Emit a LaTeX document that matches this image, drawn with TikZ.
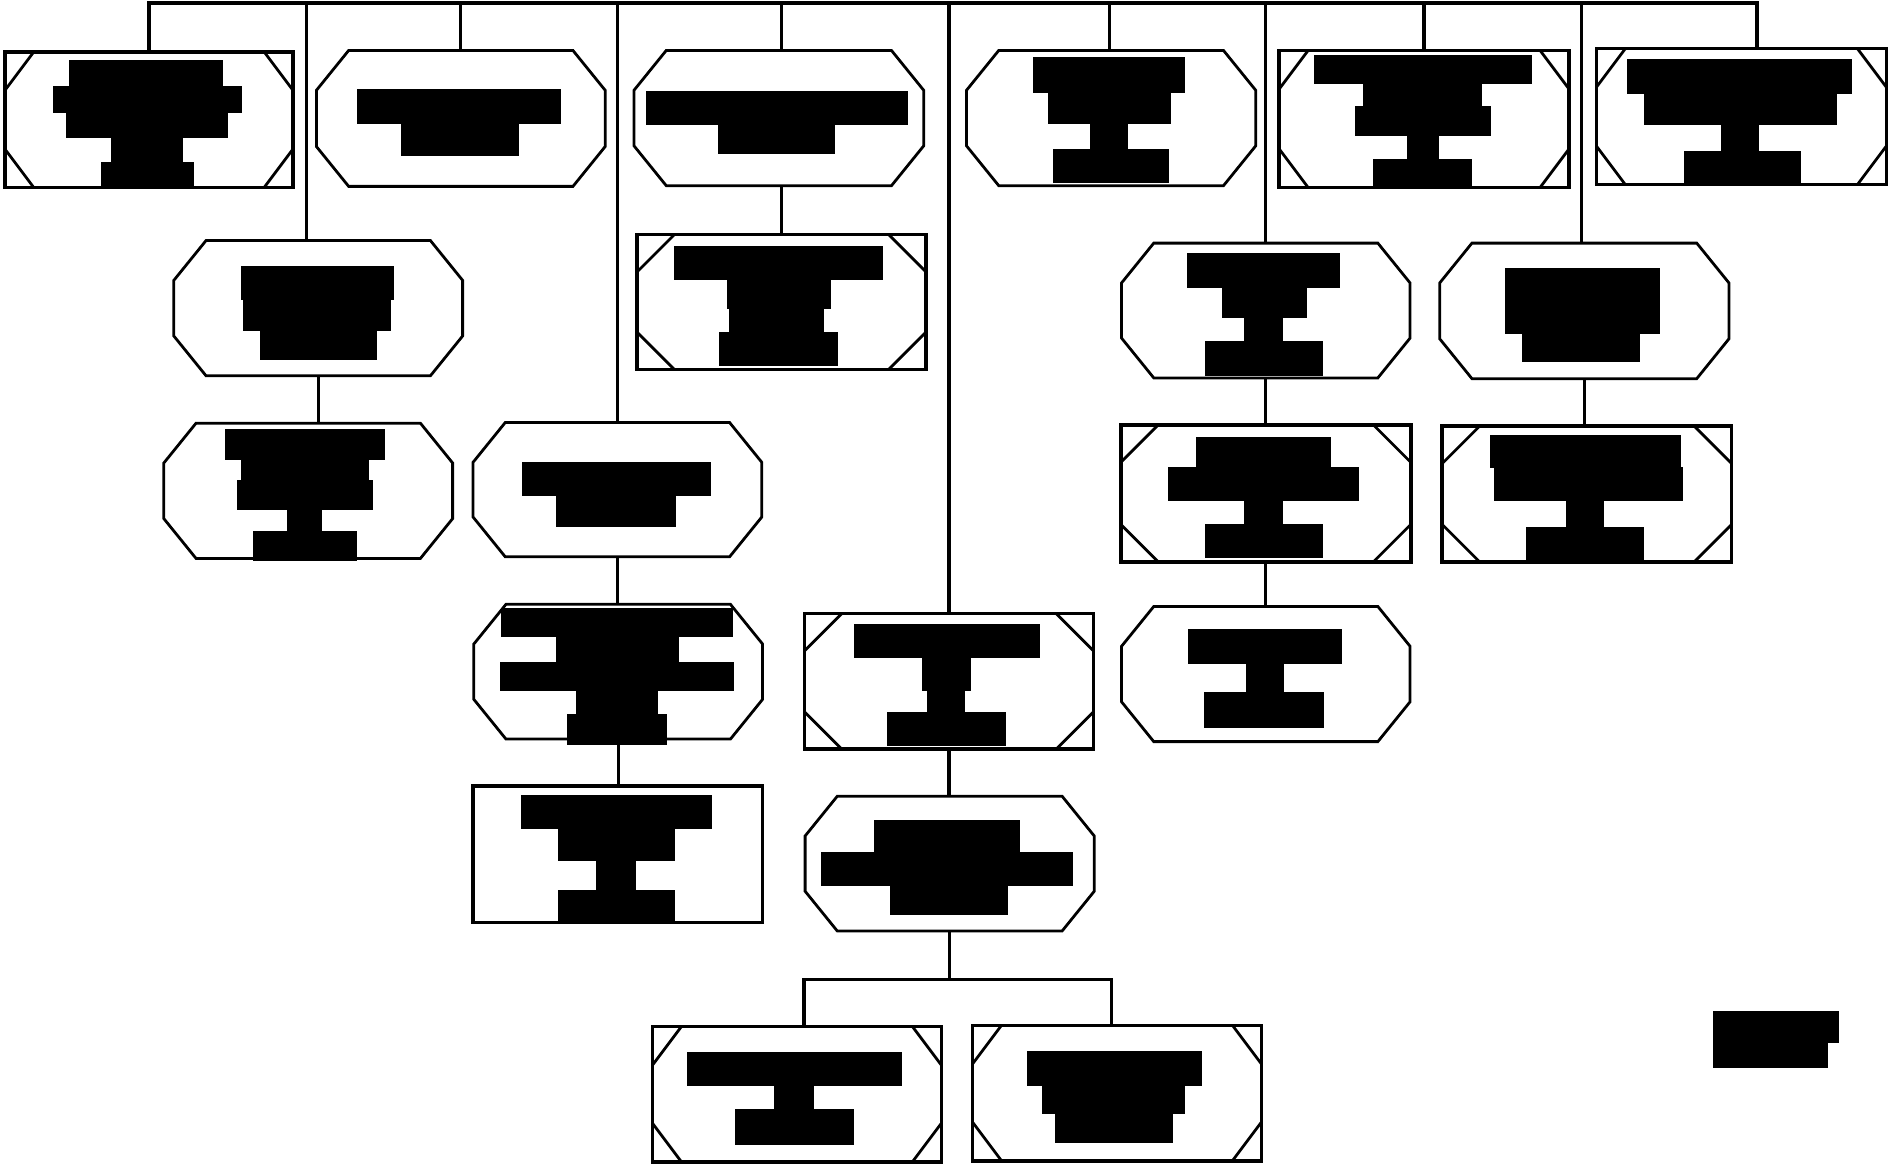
\documentclass[tikz,border=0pt]{standalone}
\newcommand\octbox[5]{%
 \node[holder,minimum width=#4pt,minimum height=#5pt] (#1) at (#2,#3) {};
 \draw[octline] ([xshift=26.7pt]#1.north west) -- ([xshift=-26.7pt]#1.north east) -- ([yshift=-33pt]#1.north east) -- ([yshift=33pt]#1.south east) -- ([xshift=-26.7pt]#1.south east) -- ([xshift=26.7pt]#1.south west) -- ([yshift=33pt]#1.south west) -- ([yshift=-33pt]#1.north west) -- cycle;}
\newcommand\cornbox[7]{%
 \node[holder,draw,rectline,minimum width=#4pt,minimum height=#5pt] (#1) at (#2,#3) {};
 \draw[cornline] ([xshift=#6pt]#1.north west) -- ([yshift=-#7pt]#1.north west)
   ([xshift=-#6pt]#1.north east) -- ([yshift=-#7pt]#1.north east)
   ([xshift=#6pt]#1.south west) -- ([yshift=#7pt]#1.south west)
   ([xshift=-#6pt]#1.south east) -- ([yshift=#7pt]#1.south east);}
\newcommand\blk[4]{\path[redact] (#1,#3) rectangle (#2,#4);}
\begin{document}
\begin{tikzpicture}[x=1pt,y=-1pt,
  holder/.style={rectangle,inner sep=0pt,outer sep=0pt},
  rectline/.style={line width=2.9pt},
  octline/.style={line width=2.3pt,line join=miter},
  cornline/.style={line width=2.3pt},
  conn/.style={line width=2.7pt},
  redact/.style={fill=black,draw=black,line width=0.4pt}]
\useasboundingbox[fill=white] (0,0) rectangle (1568,966);
% boxes
\cornbox{n1}{123.65}{99.35}{239.3}{112.5}{24}{32}
\octbox{n2}{382.5}{98.3}{239.6}{112.8}
\octbox{n3}{646.5}{98}{240.4}{112.2}
\octbox{n4}{922.3}{98}{240}{112.2}
\cornbox{n5}{1182.1}{98.75}{240.6}{113.7}{24}{32}
\cornbox{n6}{1445.45}{96.8}{240.7}{112.8}{24}{32}
\octbox{n7}{264.15}{255.8}{239.7}{112.2}
\octbox{n8}{255.85}{407.4}{239.7}{112.2}
\octbox{n9}{512.5}{406.45}{239.6}{111.5}
\cornbox{n10}{648.7}{250.7}{240}{111.8}{31}{31}
\octbox{n11}{513.15}{557.55}{239.7}{111.9}
\cornbox{n12}{787.7}{565.55}{240}{112.5}{31}{31}
\octbox{n13}{1050.7}{257.75}{239.4}{111.9}
\octbox{n14}{1315.1}{258.05}{240}{112.5}
\node[holder,draw,rectline,minimum width=240.3pt,minimum height=113.1pt] (n15) at (512.85,709.15) {};
\octbox{n16}{788.3}{716.85}{240}{111.9}
\cornbox{n17}{661.5}{908.25}{239.6}{112.5}{24}{32}
\cornbox{n18}{927.15}{907.3}{239.7}{112.4}{24}{32}
\cornbox{n19}{1050.7}{409.55}{240.8}{113.5}{31}{31}
\octbox{n20}{1050.7}{559.5}{239.4}{112.2}
\cornbox{n21}{1317.25}{410.05}{240.3}{112.5}{31}{31}
% redacted labels
\blk{57.3}{184.3}{50.2}{71.4}\blk{44}{200}{71.2}{93.3}\blk{55}{188.7}{93.1}{114.2}\blk{92.7}{151}{114}{134.6}\blk{83.7}{160}{134.4}{155.5}
\blk{296.3}{465.3}{74.3}{101.9}\blk{332.7}{430}{101.7}{128.5}
\blk{536.3}{753.3}{75.5}{103.4}\blk{596.3}{692.3}{103.2}{127.3}
\blk{857.3}{983.3}{47.8}{76.6}\blk{869.7}{971.3}{76.4}{101.9}\blk{905}{935.7}{101.7}{124.4}\blk{874}{970}{124.2}{151.6}
\blk{1091.1}{1271.1}{45.6}{68.9}\blk{1131.8}{1229.4}{68.7}{88}\blk{1125.1}{1237.1}{87.8}{112.1}\blk{1168.4}{1193.8}{111.9}{132.1}\blk{1139.8}{1221.4}{131.9}{154.1}
\blk{1351.1}{1536.8}{49}{77.5}\blk{1364.4}{1524.4}{77.3}{103.1}\blk{1428.8}{1459.1}{102.9}{125.6}\blk{1397.8}{1494.4}{125.4}{151}
\blk{200}{326}{220.6}{248}\blk{202}{323.7}{247.8}{274.5}\blk{215.7}{312.7}{274.3}{298}
\blk{186.7}{319.3}{356}{381.1}\blk{200}{306}{380.9}{399}\blk{196.7}{309.3}{398.8}{423}\blk{238.7}{267}{422.8}{441.2}\blk{210}{296}{441}{465}
\blk{433.3}{589.7}{383.7}{411}\blk{462}{560.7}{410.8}{437}
\blk{559.7}{732.3}{204}{231.6}\blk{604}{689}{231.4}{256}\blk{605}{683.3}{255.8}{276}\blk{597.3}{694.7}{275.8}{303.5}
\blk{415.7}{608}{504.7}{528}\blk{462}{563}{527.8}{549.6}\blk{415}{609}{549.4}{573}\blk{478.7}{545.3}{572.8}{593.3}\blk{471}{553}{593.1}{617.5}
\blk{709.3}{862.7}{518.5}{545.9}\blk{765.7}{805}{545.7}{572.7}\blk{770}{800.7}{572.5}{591.5}\blk{736.7}{834}{591.3}{619}
\blk{985.7}{1111.8}{209.9}{238.1}\blk{1014.3}{1084.1}{237.9}{263.7}\blk{1033}{1064.1}{263.5}{283.7}\blk{1000.3}{1097.4}{283.5}{311.3}
\blk{1249.1}{1377.4}{222.5}{276.9}\blk{1263.8}{1360.8}{276.7}{299.8}
\blk{432.3}{590.7}{660}{687.6}\blk{463.3}{559.7}{687.4}{714.1}\blk{495.3}{527.3}{713.9}{738.8}\blk{463.3}{559.7}{738.6}{764.5}
\blk{725.7}{845.7}{680.9}{707.6}\blk{681.3}{890.3}{707.4}{735.1}\blk{739}{836.3}{734.9}{759.2}
\blk{570.7}{747.7}{873.6}{901.2}\blk{642.3}{674.7}{901}{921.2}\blk{610.3}{708}{921}{950}
\blk{853}{996.7}{872.6}{901.2}\blk{865}{983.3}{901}{924.3}\blk{876}{973}{924.1}{948.4}
\blk{993}{1104.4}{363}{387.9}\blk{970}{1127.4}{387.7}{415.3}\blk{1033}{1064.1}{415.1}{435.6}\blk{1000.3}{1097.4}{435.4}{462.2}
\blk{986.3}{1113.4}{522.5}{550.2}\blk{1034.3}{1065.1}{550}{574.8}\blk{1000}{1098.4}{574.6}{603.3}
\blk{1237.1}{1395.1}{361.2}{387.9}\blk{1240.4}{1396.1}{387.7}{415.3}\blk{1300.1}{1330.8}{415.1}{437.8}\blk{1267.1}{1364.1}{437.6}{463.8}
\node[holder,minimum width=104pt,minimum height=46.3pt] (legend) at (1473.8,862.45) {};
\blk{1421.8}{1525.8}{839.3}{864.8}\blk{1421.8}{1516.8}{864.6}{885.6}
% connectors
\coordinate (bR) at (1458.4,2.5);
\coordinate (t7) at (254.7,2.5);
\coordinate (t3) at (648.7,2.5);
\coordinate (t4) at (921,2.5);
\coordinate (t14) at (1312.8,2.5);
\draw[conn] (n1.north) |- (bR) -- (bR |- n6.north);
\draw[conn] (t7) -- (t7 |- n7.north);
\draw[conn] (n2.north |- bR) -- (n2.north);
\draw[conn] (n9.north |- bR) -- (n9.north);
\draw[conn] (t3) -- (t3 |- n3.north);
\draw[conn] (n12.north |- bR) -- (n12.north);
\draw[conn] (t4) -- (t4 |- n4.north);
\draw[conn] (n13.north |- bR) -- (n13.north);
\draw[conn] (n5.north |- bR) -- (n5.north);
\draw[conn] (t14) -- (t14 |- n14.north);
\draw[conn] (n10.north |- n3.south) -- (n10.north);
\draw[conn] (n7.south) -- (n7.south |- n8.north);
\draw[conn] (n9.south) -- (n9.south |- n11.north);
\draw[conn] (n11.south) -- (n11.south |- n15.north);
\draw[conn] (n12.south) -- (n12.south |- n16.north);
\draw[conn] (n13.south) -- (n13.south |- n19.north);
\draw[conn] (n19.south) -- (n19.south |- n20.north);
\draw[conn] (n14.south) -- (n14.south |- n21.north);
\coordinate (k17) at (667.3,812.8);
\coordinate (k18) at (922.3,812.8);
\draw[conn] (n16.south) -- (n16.south |- k17);
\draw[conn] (k17 |- n17.north) -- (k17) -- (k18) -- (k18 |- n18.north);
\end{tikzpicture}
\end{document}
